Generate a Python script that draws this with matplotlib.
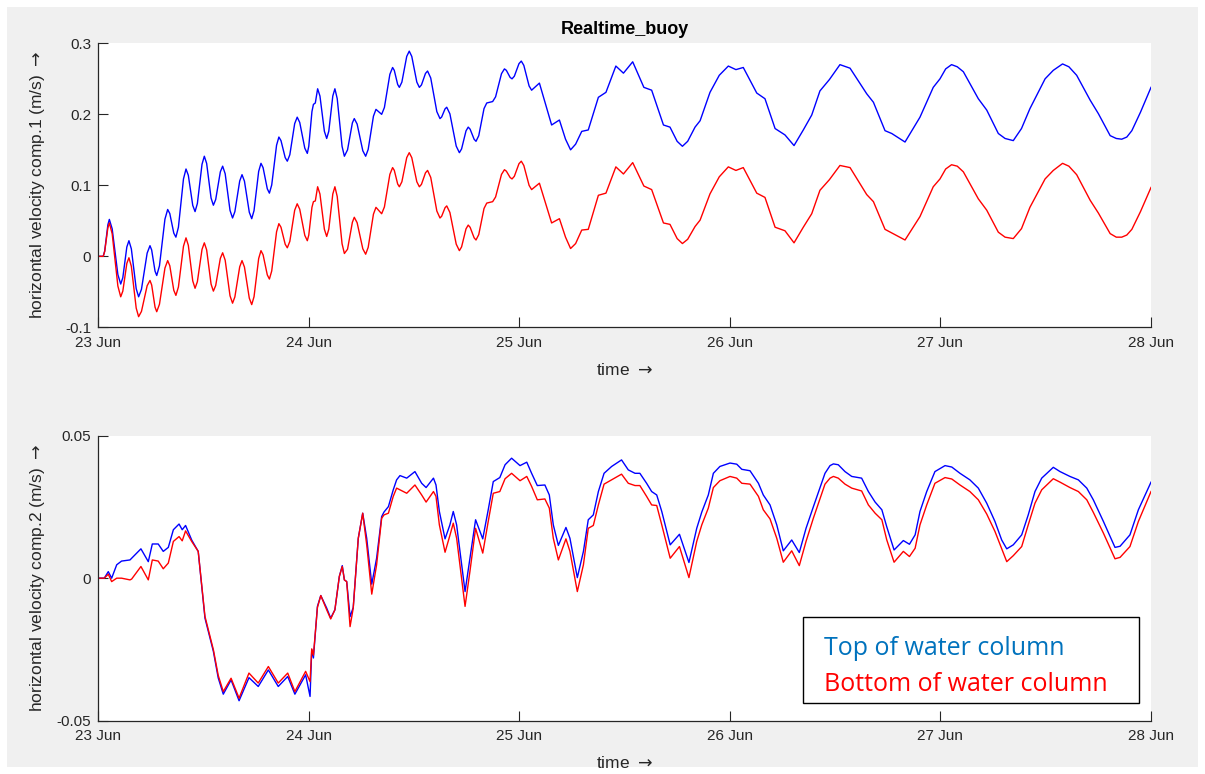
import matplotlib
matplotlib.use('Agg')
import matplotlib.pyplot as plt
from matplotlib.patches import Rectangle

# x axis: days after 23 Jun
day_ticks = [0, 1, 2, 3, 4, 5]
day_labels = ['23 Jun', '24 Jun', '25 Jun', '26 Jun', '27 Jun', '28 Jun']

# horizontal velocity comp.1 (m/s)
t1 = [0.000, 0.025, 0.032, 0.047, 0.054, 0.0675, 0.0945, 0.108, 0.118, 0.137,
      0.147, 0.1585, 0.1815, 0.193, 0.2065, 0.2335, 0.247, 0.255, 0.271, 0.279,
      0.292, 0.318, 0.331, 0.341, 0.360, 0.370, 0.382, 0.406, 0.418, 0.429,
      0.450, 0.461, 0.472, 0.494, 0.505, 0.516, 0.537, 0.548, 0.559, 0.581,
      0.592, 0.604, 0.627, 0.639, 0.650, 0.673, 0.684, 0.6955, 0.7185, 0.730,
      0.741, 0.763, 0.774, 0.784, 0.804, 0.814, 0.825, 0.848, 0.859, 0.869,
      0.889, 0.899, 0.911, 0.934, 0.946, 0.958, 0.982, 0.994, 1.001, 1.016,
      1.023, 1.032, 1.043, 1.054, 1.075, 1.086, 1.096, 1.115, 1.125, 1.136,
      1.159, 1.170, 1.185, 1.208, 1.217, 1.2305, 1.2575, 1.271, 1.283, 1.308,
      1.320, 1.347, 1.360, 1.386, 1.399, 1.407, 1.423, 1.431, 1.443, 1.466,
      1.478, 1.490, 1.514, 1.526, 1.536, 1.555, 1.565, 1.580, 1.609, 1.624,
      1.632, 1.648, 1.656, 1.671, 1.701, 1.716, 1.7265, 1.7475, 1.758, 1.767,
      1.786, 1.795, 1.808, 1.833, 1.846, 1.874, 1.888, 1.916, 1.930, 1.939,
      1.957, 1.966, 1.977, 1.999, 2.010, 2.022, 2.047, 2.059, 2.096, 2.154,
      2.191, 2.220, 2.244, 2.268, 2.297, 2.328, 2.376, 2.412, 2.459, 2.495,
      2.539, 2.592, 2.629, 2.685, 2.716, 2.750, 2.775, 2.800, 2.835, 2.859,
      2.906, 2.950, 2.993, 3.029, 3.064, 3.128, 3.167, 3.215, 3.262, 3.305,
      3.349, 3.389, 3.428, 3.473, 3.523, 3.571, 3.650, 3.682, 3.737, 3.769,
      3.832, 3.903, 3.966, 3.998, 4.025, 4.053, 4.080, 4.109, 4.180, 4.220,
      4.275, 4.307, 4.346, 4.385, 4.425, 4.497, 4.536, 4.580, 4.610, 4.647,
      4.711, 4.750, 4.806, 4.835, 4.861, 4.885, 4.909, 4.950, 5.000]
comp1_top = [0.000, 0.000, 0.0076, 0.0444, 0.052, 0.0387, -0.0257, -0.039, -0.0301, 0.0131,
             0.022, 0.0105, -0.0455, -0.057, -0.0465, 0.0045, 0.015, 0.0089, -0.0209, -0.027,
             -0.0134, 0.0524, 0.066, 0.0603, 0.0327, 0.027, 0.041, 0.109, 0.123, 0.1142,
             0.0718, 0.063, 0.0744, 0.1296, 0.141, 0.1309, 0.0821, 0.072, 0.080, 0.119,
             0.127, 0.1163, 0.0647, 0.054, 0.0629, 0.1061, 0.115, 0.1059, 0.0621, 0.053,
             0.0644, 0.1196, 0.131, 0.1249, 0.0951, 0.089, 0.1005, 0.1565, 0.168, 0.163,
             0.139, 0.134, 0.1431, 0.1869, 0.196, 0.1886, 0.1524, 0.145, 0.1551, 0.2039,
             0.214, 0.216, 0.236, 0.2258, 0.1762, 0.166, 0.1762, 0.2258, 0.236, 0.2221,
             0.1549, 0.141, 0.150, 0.188, 0.194, 0.1863, 0.1487, 0.141, 0.1506, 0.1974,
             0.207, 0.200, 0.2096, 0.2564, 0.266, 0.2619, 0.2421, 0.238, 0.2454, 0.2816,
             0.289, 0.2816, 0.2454, 0.238, 0.2414, 0.2576, 0.261, 0.2512, 0.2038, 0.194,
             0.1963, 0.2077, 0.210, 0.2007, 0.1553, 0.146, 0.1513, 0.1767, 0.182, 0.1791,
             0.1649, 0.162, 0.1699, 0.2081, 0.216, 0.218, 0.2247, 0.2573, 0.264, 0.262,
             0.252, 0.250, 0.2537, 0.2714, 0.275, 0.269, 0.240, 0.234, 0.244, 0.185,
             0.192, 0.165, 0.150, 0.158, 0.176, 0.178, 0.224, 0.231, 0.268, 0.258,
             0.274, 0.238, 0.234, 0.185, 0.182, 0.162, 0.155, 0.162, 0.182, 0.191,
             0.231, 0.255, 0.268, 0.263, 0.266, 0.230, 0.222, 0.180, 0.171, 0.156,
             0.178, 0.199, 0.233, 0.249, 0.270, 0.265, 0.229, 0.217, 0.177, 0.173,
             0.161, 0.196, 0.238, 0.250, 0.264, 0.270, 0.267, 0.260, 0.222, 0.206,
             0.173, 0.166, 0.163, 0.180, 0.208, 0.250, 0.262, 0.271, 0.267, 0.255,
             0.220, 0.201, 0.170, 0.166, 0.165, 0.168, 0.177, 0.203, 0.238]
comp1_bottom = [0.000, 0.000, 0.0069, 0.0401, 0.047, 0.0318, -0.0418, -0.057, -0.049, -0.010,
                -0.002, -0.0141, -0.0729, -0.085, -0.0776, -0.0414, -0.034, -0.0404, -0.0716, -0.078,
                -0.0675, -0.0165, -0.006, -0.0132, -0.0478, -0.055, -0.0432, 0.0142, 0.026, 0.0156,
                -0.0346, -0.045, -0.0357, 0.0097, 0.019, 0.0091, -0.0391, -0.049, -0.0411, -0.0029,
                0.005, -0.0054, -0.0556, -0.066, -0.0572, -0.0148, -0.006, -0.0151, -0.0589, -0.068,
                -0.0569, -0.0031, 0.008, 0.0022, -0.0262, -0.032, -0.0206, 0.0346, 0.046, 0.041,
                0.017, 0.012, 0.0211, 0.0649, 0.074, 0.0664, 0.0296, 0.022, 0.030, 0.069,
                0.077, 0.078, 0.098, 0.0878, 0.0382, 0.028, 0.0382, 0.0878, 0.098, 0.0843,
                0.0177, 0.004, 0.010, 0.048, 0.055, 0.0474, 0.0106, 0.003, 0.0126, 0.0594,
                0.069, 0.060, 0.0695, 0.1155, 0.125, 0.1211, 0.1019, 0.098, 0.105, 0.139,
                0.146, 0.139, 0.105, 0.098, 0.1014, 0.1176, 0.121, 0.1112, 0.0638, 0.054,
                0.0565, 0.0685, 0.071, 0.0618, 0.0172, 0.008, 0.0133, 0.0387, 0.044, 0.0409,
                0.0261, 0.023, 0.0306, 0.0674, 0.075, 0.077, 0.0836, 0.1154, 0.122, 0.120,
                0.111, 0.109, 0.1127, 0.1305, 0.134, 0.128, 0.100, 0.094, 0.103, 0.047,
                0.053, 0.027, 0.011, 0.018, 0.037, 0.038, 0.086, 0.089, 0.126, 0.116,
                0.132, 0.099, 0.094, 0.047, 0.045, 0.025, 0.018, 0.024, 0.042, 0.051,
                0.088, 0.112, 0.126, 0.121, 0.125, 0.089, 0.083, 0.041, 0.036, 0.019,
                0.041, 0.060, 0.093, 0.108, 0.128, 0.125, 0.087, 0.077, 0.038, 0.033,
                0.023, 0.056, 0.098, 0.109, 0.123, 0.129, 0.127, 0.119, 0.081, 0.065,
                0.034, 0.027, 0.025, 0.039, 0.069, 0.109, 0.121, 0.131, 0.127, 0.115,
                0.079, 0.061, 0.032, 0.027, 0.027, 0.030, 0.038, 0.063, 0.097]

# horizontal velocity comp.2 (m/s)
t2 = [0.000, 0.030, 0.049, 0.065, 0.089, 0.112, 0.152, 0.160, 0.204, 0.239,
      0.258, 0.286, 0.310, 0.334, 0.358, 0.385, 0.400, 0.416, 0.445, 0.476,
      0.508, 0.548, 0.571, 0.595, 0.632, 0.670, 0.717, 0.761, 0.809, 0.856,
      0.901, 0.935, 0.986, 1.007, 1.015, 1.023, 1.042, 1.058, 1.086, 1.105,
      1.125, 1.146, 1.160, 1.170, 1.181, 1.197, 1.212, 1.236, 1.257, 1.276,
      1.300, 1.323, 1.347, 1.358, 1.379, 1.402, 1.418, 1.434, 1.466, 1.505,
      1.537, 1.558, 1.593, 1.605, 1.621, 1.648, 1.671, 1.687, 1.703, 1.743,
      1.766, 1.793, 1.827, 1.853, 1.877, 1.908, 1.933, 1.964, 2.004, 2.036,
      2.059, 2.086, 2.122, 2.143, 2.162, 2.186, 2.222, 2.241, 2.276, 2.305,
      2.328, 2.352, 2.376, 2.403, 2.439, 2.486, 2.518, 2.550, 2.573, 2.605,
      2.629, 2.653, 2.677, 2.717, 2.761, 2.806, 2.843, 2.867, 2.898, 2.922,
      2.953, 3.001, 3.033, 3.057, 3.096, 3.136, 3.159, 3.191, 3.223, 3.254,
      3.294, 3.330, 3.362, 3.397, 3.452, 3.476, 3.492, 3.515, 3.547, 3.579,
      3.626, 3.658, 3.690, 3.722, 3.745, 3.780, 3.824, 3.853, 3.880, 3.903,
      3.935, 3.974, 4.022, 4.054, 4.093, 4.140, 4.180, 4.220, 4.259, 4.291,
      4.315, 4.346, 4.386, 4.417, 4.449, 4.481, 4.536, 4.568, 4.615, 4.655,
      4.695, 4.726, 4.774, 4.829, 4.853, 4.900, 4.940, 5.000]
comp2_top = [0.0000, 0.0000, 0.0023, 0.0000, 0.0047, 0.0060, 0.0064, 0.0070, 0.0103, 0.0058,
             0.0120, 0.0120, 0.0094, 0.0108, 0.0170, 0.0190, 0.0170, 0.0185, 0.0134, 0.0094,
             -0.0140, -0.0257, -0.0350, -0.0407, -0.0357, -0.0430, -0.0349, -0.0380, -0.0322, -0.0380,
             -0.0345, -0.0407, -0.0339, -0.0415, -0.0251, -0.0280, -0.0099, -0.0061, -0.0105, -0.0140,
             -0.0111, 0.0006, 0.0044, -0.0006, -0.0012, -0.0135, -0.0103, 0.0140, 0.0228, 0.0140,
             -0.0021, 0.0070, 0.0216, 0.0232, 0.0251, 0.0310, 0.0345, 0.0360, 0.0351, 0.0374,
             0.0333, 0.0318, 0.0351, 0.0327, 0.0234, 0.0138, 0.0187, 0.0234, 0.0187, -0.0047,
             0.0070, 0.0205, 0.0138, 0.0240, 0.0339, 0.0353, 0.0398, 0.0421, 0.0395, 0.0407,
             0.0368, 0.0325, 0.0327, 0.0292, 0.0187, 0.0115, 0.0178, 0.0140, 0.0002, 0.0094,
             0.0205, 0.0222, 0.0304, 0.0368, 0.0392, 0.0415, 0.0380, 0.0368, 0.0368, 0.0333,
             0.0304, 0.0292, 0.0234, 0.0117, 0.0154, 0.0055, 0.0175, 0.0232, 0.0292, 0.0368,
             0.0392, 0.0404, 0.0400, 0.0382, 0.0377, 0.0333, 0.0292, 0.0257, 0.0187, 0.0096,
             0.0134, 0.0090, 0.0175, 0.0251, 0.0368, 0.0395, 0.0401, 0.0398, 0.0374, 0.0357,
             0.0351, 0.0304, 0.0267, 0.0240, 0.0181, 0.0099, 0.0132, 0.0119, 0.0152, 0.0234,
             0.0304, 0.0374, 0.0395, 0.0390, 0.0368, 0.0345, 0.0316, 0.0263, 0.0199, 0.0134,
             0.0103, 0.0117, 0.0152, 0.0222, 0.0304, 0.0351, 0.0389, 0.0374, 0.0357, 0.0345,
             0.0316, 0.0275, 0.0199, 0.0108, 0.0112, 0.0152, 0.0240, 0.0337]
comp2_bottom = [0.0000, 0.0000, 0.0014, -0.0012, 0.0000, 0.0000, -0.0006, -0.0003, 0.0041, -0.0006,
                0.0064, 0.0060, 0.0033, 0.0053, 0.0129, 0.0146, 0.0131, 0.0166, 0.0129, 0.0094,
                -0.0134, -0.0251, -0.0341, -0.0398, -0.0351, -0.0421, -0.0333, -0.0368, -0.0310, -0.0368,
                -0.0333, -0.0398, -0.0327, -0.0363, -0.0248, -0.0270, -0.0103, -0.0061, -0.0111, -0.0143,
                -0.0111, 0.0006, 0.0041, -0.0006, -0.0012, -0.0170, -0.0105, 0.0140, 0.0228, 0.0117,
                -0.0056, 0.0047, 0.0210, 0.0222, 0.0228, 0.0287, 0.0316, 0.0310, 0.0298, 0.0327,
                0.0292, 0.0267, 0.0304, 0.0287, 0.0187, 0.0091, 0.0150, 0.0193, 0.0140, -0.0099,
                0.0023, 0.0175, 0.0088, 0.0199, 0.0298, 0.0304, 0.0349, 0.0368, 0.0342, 0.0357,
                0.0322, 0.0275, 0.0278, 0.0246, 0.0140, 0.0064, 0.0138, 0.0094, -0.0047, 0.0047,
                0.0175, 0.0185, 0.0257, 0.0330, 0.0345, 0.0365, 0.0333, 0.0325, 0.0325, 0.0287,
                0.0257, 0.0255, 0.0187, 0.0070, 0.0111, 0.0002, 0.0129, 0.0187, 0.0246, 0.0318,
                0.0342, 0.0357, 0.0351, 0.0333, 0.0330, 0.0287, 0.0240, 0.0208, 0.0140, 0.0056,
                0.0096, 0.0044, 0.0129, 0.0211, 0.0330, 0.0351, 0.0357, 0.0351, 0.0330, 0.0316,
                0.0306, 0.0257, 0.0228, 0.0205, 0.0135, 0.0056, 0.0094, 0.0076, 0.0105, 0.0187,
                0.0257, 0.0333, 0.0353, 0.0348, 0.0327, 0.0304, 0.0275, 0.0225, 0.0164, 0.0103,
                0.0058, 0.0079, 0.0111, 0.0187, 0.0263, 0.0310, 0.0349, 0.0337, 0.0318, 0.0304,
                0.0275, 0.0231, 0.0158, 0.0068, 0.0073, 0.0111, 0.0199, 0.0304]

plt.rcParams['font.family'] = ['Liberation Sans', 'DejaVu Sans']
axcol = '#262626'

fig = plt.figure(figsize=(12.05, 7.74), dpi=100, facecolor='white')
# matlab style grey figure area with a thin white margin
fig.patches.append(Rectangle((7 / 1205, 7 / 774), 1 - 14 / 1205, 1 - 14 / 774,
                             transform=fig.transFigure, facecolor='#f0f0f0',
                             edgecolor='none', zorder=-10))

ax1 = fig.add_axes([0.0813, 0.5771, 0.8739, 0.3669])
ax2 = fig.add_axes([0.0813, 0.0689, 0.8739, 0.3682])

panels = [
    (ax1, t1, comp1_top, comp1_bottom, (-0.1, 0.3), [-0.1, 0, 0.1, 0.2, 0.3],
     ['-0.1', '0', '0.1', '0.2', '0.3'], r'horizontal velocity comp.1 (m/s) $\rightarrow$'),
    (ax2, t2, comp2_top, comp2_bottom, (-0.05, 0.05), [-0.05, 0, 0.05],
     ['-0.05', '0', '0.05'], r'horizontal velocity comp.2 (m/s) $\rightarrow$'),
]

for ax, t, top, bot, ylim, yt, ytl, ylab in panels:
    ax.plot(t, top, color='#0000ff', lw=1.0, solid_joinstyle='round')
    ax.plot(t, bot, color='#ff0000', lw=1.0, solid_joinstyle='round')
    ax.set_xlim(0, 5)
    ax.set_ylim(*ylim)
    ax.set_xticks(day_ticks)
    ax.set_xticklabels(day_labels)
    ax.set_yticks(yt)
    ax.set_yticklabels(ytl)
    ax.spines['top'].set_visible(False)
    ax.spines['right'].set_visible(False)
    for s in ['left', 'bottom']:
        ax.spines[s].set_color(axcol)
        ax.spines[s].set_linewidth(0.9)
    ax.tick_params(direction='in', length=7.5, width=0.8, colors=axcol,
                   labelsize=11, labelcolor=axcol)
    ax.tick_params(axis='x', pad=6)
    ax.tick_params(axis='y', pad=5)
    ax.set_ylabel(ylab, fontsize=12.5, color=axcol)
    ax.yaxis.set_label_coords(-0.048, 0.5)
    ax.set_xlabel(r'time $\rightarrow$', fontsize=12.5, color=axcol, va='center')
    ax.xaxis.set_label_coords(0.5, -0.15)

ax1.set_title('Realtime_buoy', fontsize=13, fontweight='bold', color='black', pad=7)

# text box legend in lower panel
fig.patches.append(Rectangle((803 / 1205, 1 - 703 / 774), 336 / 1205, 86 / 774,
                             transform=fig.transFigure, facecolor='white',
                             edgecolor='black', lw=1.0, zorder=5))
fig.text(824 / 1205, 1 - 655 / 774, 'Top of water column', color='#0072bd',
         fontsize=18, family=['Open Sans', 'DejaVu Sans'], va='baseline', zorder=6)
fig.text(824 / 1205, 1 - 691 / 774, 'Bottom of water column', color='#ff0000',
         fontsize=18, family=['Open Sans', 'DejaVu Sans'], va='baseline', zorder=6)

fig.savefig('out.png', dpi=100, facecolor=fig.get_facecolor())
